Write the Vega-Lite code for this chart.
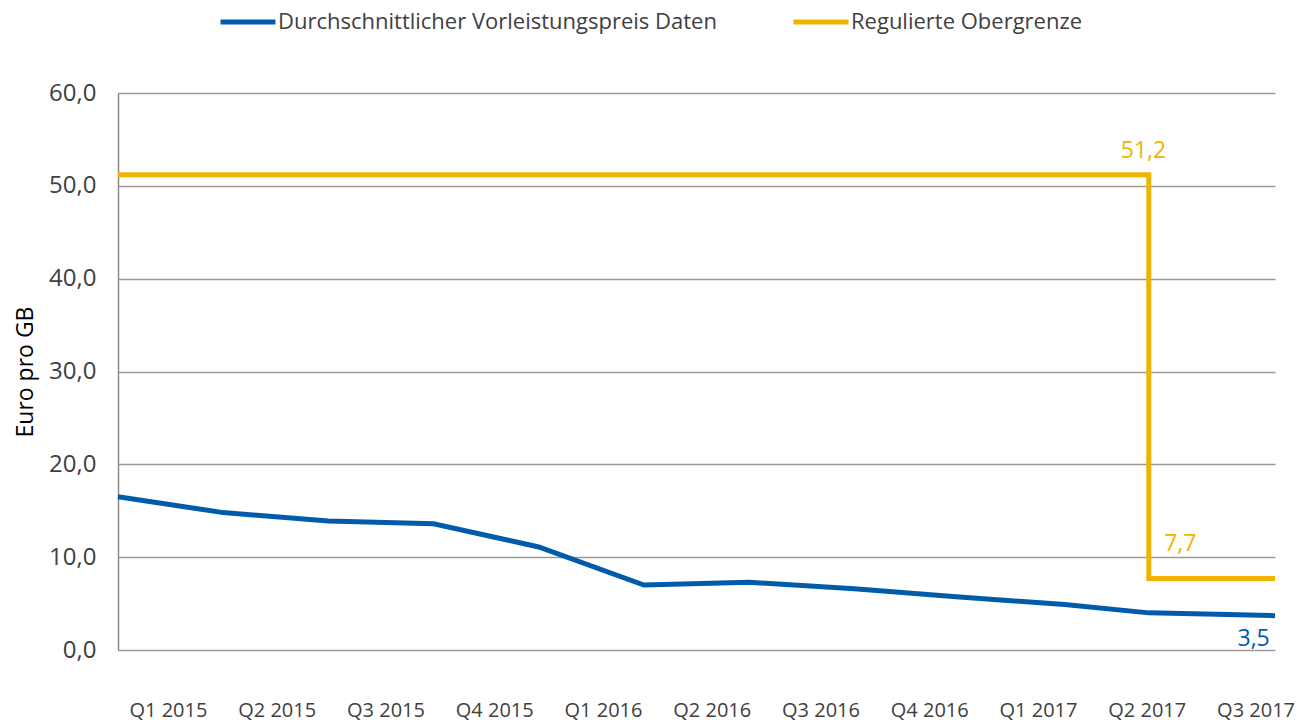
{
  "$schema": "https://vega.github.io/schema/vega-lite/v6.json",
  "width": 1157,
  "height": 557,
  "autosize": {"type": "none"},
  "padding": {"left": 118, "top": 93, "right": 36, "bottom": 76},
  "background": "white",
  "config": {"font": "Open Sans", "view": {"stroke": null}},
  "datasets": {
    "blue": [
      {"t": 0, "value": 16.5, "series": "Durchschnittlicher Vorleistungspreis Daten"},
      {"t": 1, "value": 14.8, "series": "Durchschnittlicher Vorleistungspreis Daten"},
      {"t": 2, "value": 13.9, "series": "Durchschnittlicher Vorleistungspreis Daten"},
      {"t": 3, "value": 13.6, "series": "Durchschnittlicher Vorleistungspreis Daten"},
      {"t": 4, "value": 11.1, "series": "Durchschnittlicher Vorleistungspreis Daten"},
      {"t": 5, "value": 7.0, "series": "Durchschnittlicher Vorleistungspreis Daten"},
      {"t": 6, "value": 7.3, "series": "Durchschnittlicher Vorleistungspreis Daten"},
      {"t": 7, "value": 6.6, "series": "Durchschnittlicher Vorleistungspreis Daten"},
      {"t": 8, "value": 5.7, "series": "Durchschnittlicher Vorleistungspreis Daten"},
      {"t": 9, "value": 4.9, "series": "Durchschnittlicher Vorleistungspreis Daten"},
      {"t": 9.8, "value": 4.0, "series": "Durchschnittlicher Vorleistungspreis Daten"},
      {"t": 11, "value": 3.7, "series": "Durchschnittlicher Vorleistungspreis Daten"}
    ],
    "yellow": [
      {"t": 0, "value": 51.2, "series": "Regulierte Obergrenze"},
      {"t": 9.8, "value": 7.7, "series": "Regulierte Obergrenze"},
      {"t": 11, "value": 7.7, "series": "Regulierte Obergrenze"}
    ],
    "labels": [
      {"key": "a", "t": 9.75, "value": 51.2, "label": "51,2", "series": "Regulierte Obergrenze"},
      {"key": "b", "t": 10.1, "value": 7.7, "label": "7,7", "series": "Regulierte Obergrenze"},
      {"key": "c", "t": 10.95, "value": 3.5, "label": "3,5", "series": "Durchschnittlicher Vorleistungspreis Daten"}
    ]
  },
  "encoding": {
    "x": {
      "field": "t",
      "type": "quantitative",
      "scale": {"domain": [0, 11], "nice": false, "zero": false},
      "axis": {
        "title": null,
        "grid": false,
        "ticks": false,
        "domain": false,
        "values": [0.475, 1.509, 2.543, 3.577, 4.611, 5.645, 6.679, 7.713, 8.747, 9.781, 10.815],
        "labelExpr": "['Q1 2015','Q2 2015','Q3 2015','Q4 2015','Q1 2016','Q2 2016','Q3 2016','Q4 2016','Q1 2017','Q2 2017','Q3 2017'][round((datum.value-0.475)/1.034)]",
        "labelPadding": 50,
        "labelFontSize": 20,
        "labelColor": "#404040",
        "labelFlush": false,
        "labelOverlap": false,
        "labelBound": false
      }
    },
    "y": {
      "field": "value",
      "type": "quantitative",
      "scale": {"domain": [0, 60], "nice": false},
      "axis": {
        "title": "Euro pro GB",
        "titleFontSize": 23,
        "titleFontWeight": "normal",
        "titleColor": "#000000",
        "titlePadding": 11,
        "values": [0, 10, 20, 30, 40, 50, 60],
        "labelExpr": "replace(format(datum.value, '.1f'), '.', ',')",
        "labelFontSize": 24,
        "labelColor": "#404040",
        "labelPadding": 22,
        "ticks": false,
        "grid": true,
        "gridColor": "#9a9a9a",
        "gridWidth": 1.5,
        "domain": true,
        "domainColor": "#8a8a8a",
        "domainWidth": 1.5
      }
    },
    "color": {
      "field": "series",
      "type": "nominal",
      "scale": {
        "domain": ["Durchschnittlicher Vorleistungspreis Daten", "Regulierte Obergrenze"],
        "range": ["#005CAB", "#F0B400"]
      },
      "legend": {
        "title": null,
        "orient": "none",
        "direction": "horizontal",
        "legendX": 100,
        "legendY": -101,
        "symbolType": "stroke",
        "symbolSize": 3025,
        "symbolStrokeWidth": 5,
        "labelFontSize": 22,
        "labelLimit": 0,
        "labelColor": "#404040",
        "labelOffset": 0,
        "columnPadding": 66
      }
    }
  },
  "layer": [
    {
      "data": {"name": "yellow"},
      "mark": {"type": "line", "strokeWidth": 5, "interpolate": "step-after"}
    },
    {
      "data": {"name": "blue"},
      "mark": {"type": "line", "strokeWidth": 5, "interpolate": "linear"}
    },
    {
      "data": {"name": "labels"},
      "transform": [{"filter": "datum.key == 'a'"}],
      "mark": {"type": "text", "fontSize": 23, "align": "center", "baseline": "alphabetic", "dy": -17},
      "encoding": {"text": {"field": "label"}}
    },
    {
      "data": {"name": "labels"},
      "transform": [{"filter": "datum.key == 'b'"}],
      "mark": {"type": "text", "fontSize": 23, "align": "center", "baseline": "alphabetic", "dy": -28},
      "encoding": {"text": {"field": "label"}}
    },
    {
      "data": {"name": "labels"},
      "transform": [{"filter": "datum.key == 'c'"}],
      "mark": {"type": "text", "fontSize": 23, "align": "right", "baseline": "alphabetic", "dy": 28},
      "encoding": {"text": {"field": "label"}}
    }
  ]
}
